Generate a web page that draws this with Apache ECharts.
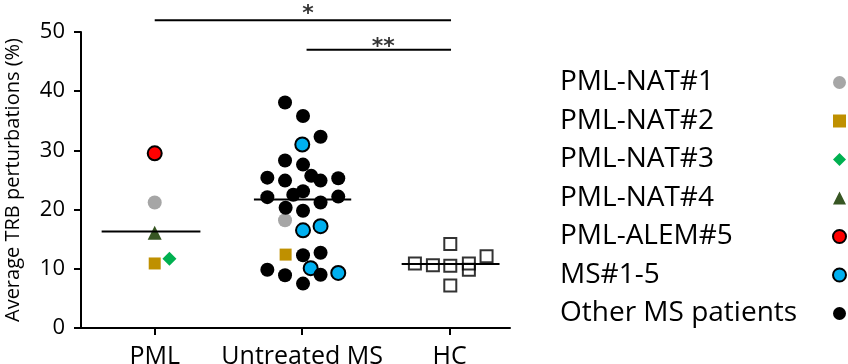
<!DOCTYPE html>
<html>
<head>
<meta charset="utf-8">
<script src="https://cdn.jsdelivr.net/npm/echarts@6/dist/echarts.min.js"></script>
<style>
html, body { margin: 0; padding: 0; background: #fff; }
#chart { width: 848px; height: 364px; }
</style>
</head>
<body>
<div id="chart"></div>
<script>
// groups sit at x = 1, 2, 3; points are jittered around them like the original
var categories = ['PML', 'Untreated MS', 'HC'];

var pmlNat1 = [[1.00, 21.2], [1.884, 18.2]];
var pmlNat2 = [[1.00, 10.9], [1.888, 12.4]];
var pmlNat3 = [[1.10, 11.7]];
var pmlNat4 = [[1.00, 16.1]];
var pmlAlem5 = [[1.00, 29.5]];
var ms1to5 = [[2.001, 31.0], [2.006, 16.5], [2.125, 17.2], [2.058, 10.1], [2.245, 9.3]];
var otherMS = [
    [1.884, 38.1], [2.006, 35.8], [2.125, 32.3], [1.884, 28.3], [2.006, 27.6],
    [1.764, 25.4], [1.884, 24.9], [2.062, 25.7], [2.125, 24.9], [2.245, 25.3],
    [1.764, 22.1], [1.940, 22.5], [2.006, 23.1], [2.245, 22.2], [2.125, 21.2],
    [1.888, 20.3], [2.006, 19.8], [2.006, 12.3], [2.125, 12.7], [1.764, 9.85],
    [1.884, 8.9], [2.125, 9.0], [2.006, 7.5]
];
var hc = [
    [3.005, 14.2], [2.765, 10.9], [2.887, 10.6], [3.005, 10.5],
    [3.131, 10.9], [3.131, 9.85], [3.251, 12.1], [3.005, 7.2]
];

// medians: [xStart, xEnd, y]
var medians = [[0.64, 1.31, 16.3], [1.673, 2.333, 21.7], [2.675, 3.339, 10.8]];
// significance bars: [xStart, xEnd, y, label, labelX, labelY]
var sigBars = [[1.0, 3.01, 52.0, '*', 2.04, 51.2], [2.03, 3.01, 47.0, '**', 2.55, 45.6]];

var FONT = 'Open Sans';

function dots(name, data, symbol, size, color, border) {
    return {
        name: name,
        type: 'scatter',
        data: data,
        symbol: symbol,
        symbolSize: size,
        z: 3,
        itemStyle: {
            color: color,
            opacity: 1,
            borderColor: border ? '#000' : color,
            borderWidth: border ? 2 : 0
        }
    };
}

var series = [
    dots('PML-NAT#1', pmlNat1, 'circle', 14, '#a6a6a6', false),
    dots('PML-NAT#2', pmlNat2, 'rect', 12, '#bf9000', false),
    dots('PML-NAT#3', pmlNat3, 'diamond', 14, '#00b050', false),
    dots('PML-NAT#4', pmlNat4, 'triangle', 14, '#375623', false),
    dots('PML-ALEM#5', pmlAlem5, 'circle', 14, '#ff0000', true),
    dots('MS#1-5', ms1to5, 'circle', 14, '#00b0f0', true),
    dots('Other MS patients', otherMS, 'circle', 14, '#000', false),
    {
        name: 'HC',
        type: 'scatter',
        data: hc,
        symbol: 'rect',
        symbolSize: 12,
        itemStyle: { color: 'transparent', borderColor: '#000', borderWidth: 2 }
    }
];

medians.forEach(function (m) {
    series.push({
        type: 'line',
        data: [[m[0], m[2]], [m[1], m[2]]],
        symbol: 'none',
        silent: true,
        z: 4,
        lineStyle: { color: '#000', width: 2 }
    });
});

sigBars.forEach(function (s) {
    series.push({
        type: 'line',
        data: [[s[0], s[2]], [s[1], s[2]]],
        symbol: 'none',
        clip: false,
        silent: true,
        lineStyle: { color: '#000', width: 2 }
    });
    series.push({
        type: 'scatter',
        data: [[s[4], s[5]]],
        symbolSize: 0,
        clip: false,
        silent: true,
        label: {
            show: true,
            position: 'top',
            distance: 0,
            formatter: s[3],
            color: '#000',
            fontFamily: 'DejaVu Sans',
            fontWeight: 'bold',
            fontSize: 22
        }
    });
});

echarts.init(document.getElementById('chart')).setOption({
    animation: false,
    grid: { left: 81, right: 338, top: 32, bottom: 36, outerBoundsMode: 'none' },
    legend: {
        data: ['PML-NAT#1', 'PML-NAT#2', 'PML-NAT#3', 'PML-NAT#4', 'PML-ALEM#5', 'MS#1-5', 'Other MS patients'],
        orient: 'vertical',
        left: 555,
        top: 62,
        align: 'right',
        itemWidth: 13,
        itemHeight: 13,
        itemGap: 7.5,
        selectedMode: false,
        formatter: function (name) { return '{t|' + name + '}'; },
        textStyle: {
            color: '#000',
            fontFamily: FONT,
            fontSize: 28,
            lineHeight: 31,
            rich: {
                t: {
                    color: '#000',
                    fontFamily: FONT,
                    fontSize: 28,
                    lineHeight: 31,
                    width: 268,
                    align: 'left'
                }
            }
        }
    },
    xAxis: {
        type: 'value',
        min: 0.5,
        max: 3.41,
        splitLine: { show: false },
        axisLine: { lineStyle: { color: '#000', width: 2 } },
        axisTick: {
            show: true,
            customValues: [1, 2, 3],
            length: 7,
            lineStyle: { color: '#000', width: 2 }
        },
        axisLabel: {
            customValues: [1, 2, 3],
            formatter: function (v) { return categories[Math.round(v) - 1]; },
            color: '#000',
            fontFamily: FONT,
            fontSize: 25,
            margin: 16
        }
    },
    yAxis: {
        type: 'value',
        min: 0,
        max: 50,
        interval: 10,
        name: 'Average TRB perturbations (%)',
        nameLocation: 'middle',
        nameGap: 58,
        nameTextStyle: { color: '#000', fontFamily: FONT, fontSize: 20 },
        splitLine: { show: false },
        axisLine: { show: true, lineStyle: { color: '#000', width: 2 } },
        axisTick: { show: true, length: 7, lineStyle: { color: '#000', width: 2 } },
        axisLabel: { color: '#000', fontFamily: FONT, fontSize: 22, margin: 16 }
    },
    series: series
});
</script>
</body>
</html>
